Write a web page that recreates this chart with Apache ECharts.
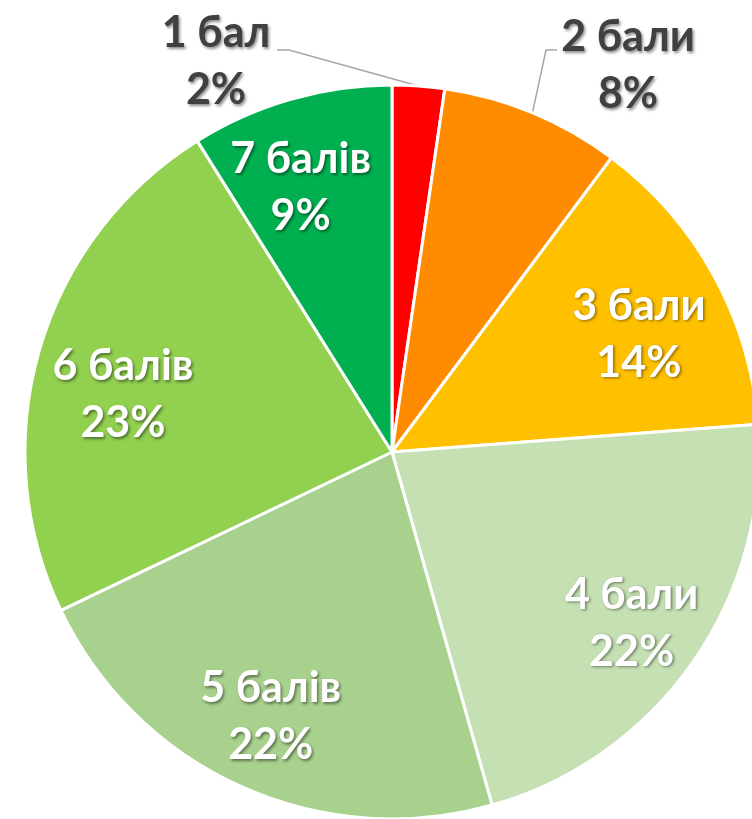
<!DOCTYPE html>
<html><head><meta charset="utf-8">
<script src="https://cdn.jsdelivr.net/npm/echarts@6/dist/echarts.min.js"></script>
<style>html,body{margin:0;padding:0;background:#fff}#c{width:752px;height:819px}</style>
</head><body><div id="c"></div>
<script>
const categories = ['1 бал','2 бали','3 бали','4 бали','5 балів','6 балів','7 балів'];
const values = [2.3, 7.9, 13.6, 21.8, 22.3, 23.2, 8.9];
const colors = ['#FF0000','#FF8C00','#FFC000','#C5E0B3','#A9D18E','#92D050','#00B050'];
const outsideIdx = [0, 1];

const FONT = 'Lato';
const CX = 392, CY = 452, R = 367;

const fmt = p => p.name + '\n' + Math.round(p.percent) + '%';
const shadow = { textShadowColor: 'rgba(0,0,0,0.45)', textShadowBlur: 3, textShadowOffsetX: 1.5, textShadowOffsetY: 1.5 };

const mainData = categories.map((n, i) => ({
  name: n, value: values[i],
  itemStyle: { color: colors[i] },
  label: { show: outsideIdx.includes(i) },
  labelLine: { show: outsideIdx.includes(i) }
}));
const overlayData = categories.map((n, i) => ({
  name: n, value: values[i],
  label: { show: !outsideIdx.includes(i) }
}));

// label placement (layout only)
const outsidePos = {
  0: { x: 216, y: 62, line: [[289, 50], [277, 50]] },
  1: { x: 628, y: 66, line: [[546, 50], [557, 50]] }
};
const insideShift = { 2: [-5, 21], 3: [4, 7], 4: [-3, 3], 5: [7, 23], 6: [-12, 12] };

const chart = echarts.init(document.getElementById('c'), null, { renderer: 'canvas' });
chart.setOption({
  animation: false,
  series: [
    {
      type: 'pie', center: [CX, CY], radius: [0, R], startAngle: 90, clockwise: true,
      avoidLabelOverlap: false,
      itemStyle: { borderColor: '#fff', borderWidth: 3 },
      label: {
        position: 'outside', formatter: fmt, color: '#404040',
        fontFamily: FONT, fontWeight: 'bold', fontSize: 43, lineHeight: 57, align: 'center',
        ...shadow
      },
      labelLine: { lineStyle: { color: '#A6A6A6', width: 1.5 }, length: 20, length2: 10 },
      labelLayout: function (p) {
        const o = outsidePos[p.dataIndex];
        if (!o) return {};
        const start = p.labelLinePoints ? p.labelLinePoints[0] : null;
        const res = { x: o.x, y: o.y, align: 'center', verticalAlign: 'middle' };
        if (start) res.labelLinePoints = [start, o.line[0], o.line[1]];
        return res;
      },
      data: mainData
    },
    {
      type: 'pie', center: [CX, CY], radius: [0, R * 1.55], startAngle: 90, clockwise: true,
      silent: true, avoidLabelOverlap: false,
      itemStyle: { color: 'rgba(0,0,0,0)', borderWidth: 0 },
      label: {
        position: 'inside', formatter: fmt, color: '#fff',
        fontFamily: FONT, fontWeight: 'bold', fontSize: 43, lineHeight: 57, align: 'center',
        ...shadow
      },
      labelLine: { show: false },
      labelLayout: function (p) {
        const s = insideShift[p.dataIndex];
        return s ? { dx: s[0], dy: s[1] } : {};
      },
      data: overlayData
    }
  ]
});
</script></body></html>
